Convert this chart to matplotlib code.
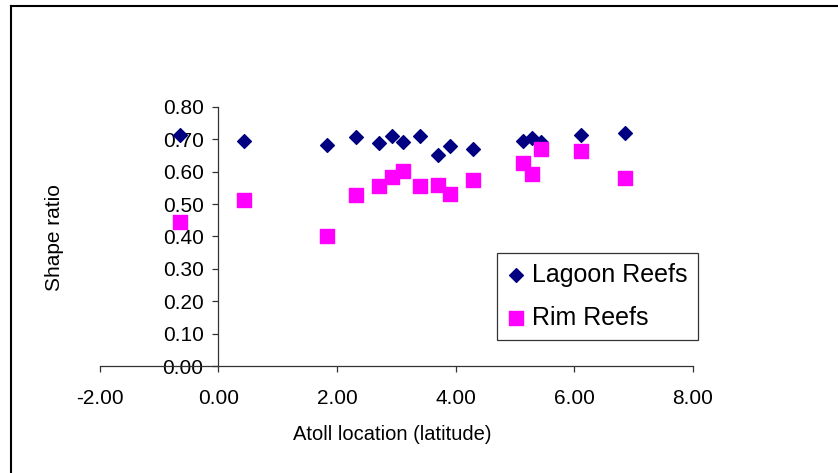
import matplotlib.pyplot as plt
from matplotlib.lines import Line2D
from matplotlib.ticker import FormatStrFormatter

plt.rcParams['font.family'] = ['Liberation Sans', 'DejaVu Sans']

# Atoll latitude and shape ratio
lat = [-0.64, 0.44, 1.83, 2.32, 2.71, 2.92, 3.11, 3.40, 3.70, 3.91, 4.29,
       5.13, 5.29, 5.44, 6.12, 6.86]
lagoon = [0.715, 0.695, 0.682, 0.708, 0.688, 0.710, 0.692, 0.710, 0.651, 0.680, 0.669,
          0.695, 0.703, 0.692, 0.712, 0.721]
rim = [0.445, 0.514, 0.403, 0.527, 0.556, 0.584, 0.601, 0.555, 0.560, 0.531, 0.573,
       0.627, 0.592, 0.670, 0.663, 0.581]

fig = plt.figure(figsize=(8.38, 4.73), dpi=100)
ax = fig.add_axes([99.5 / 838, 1 - 366 / 473, 593.5 / 838, 259 / 473])

ax.scatter(lat, lagoon, marker='D', s=7 ** 2, color='#000080', label='Lagoon Reefs', zorder=3)
ax.scatter(lat, rim, marker='s', s=10.5 ** 2, color='#FF00FF', label='Rim Reefs', zorder=3)

ax.set_xlim(-2, 8)
ax.set_ylim(0, 0.8)
ax.set_xticks([-2, 0, 2, 4, 6, 8])
ax.set_yticks([0, 0.1, 0.2, 0.3, 0.4, 0.5, 0.6, 0.7, 0.8])
ax.xaxis.set_major_formatter(FormatStrFormatter('%.2f'))
ax.yaxis.set_major_formatter(FormatStrFormatter('%.2f'))

# Excel style axes crossing at zero
ax.spines['left'].set_position(('data', 0))
ax.spines['top'].set_visible(False)
ax.spines['right'].set_visible(False)
for s in ['left', 'bottom']:
    ax.spines[s].set_linewidth(0.9)
    ax.spines[s].set_color('#333333')
ax.tick_params(axis='x', direction='out', length=4.5, width=0.9, pad=12, labelsize=15, color='#333333')
ax.tick_params(axis='y', direction='out', length=4.5, width=0.9, pad=6, labelsize=15, color='#333333')
ax.patch.set_alpha(0)

fig.text(55 / 838, 1 - 238 / 473, 'Shape ratio', rotation=90, ha='center', va='center', fontsize=15)
fig.text(392 / 838, 1 - 434 / 473, 'Atoll location (latitude)', ha='center', va='center', fontsize=14.5)

leg = ax.legend(loc='upper left', bbox_to_anchor=(497 / 838, 1 - 253 / 473),
                bbox_transform=fig.transFigure, fontsize=18, fancybox=False,
                edgecolor='#333333', framealpha=1, borderaxespad=0, scatterpoints=1,
                handlelength=0.7, handletextpad=0.3, labelspacing=0.75, borderpad=0.4)
leg.get_frame().set_linewidth(0.9)

# chart area border (only top and left edges are in the picture)
fig.add_artist(Line2D([11 / 838, 1], [1 - 6 / 473, 1 - 6 / 473], transform=fig.transFigure,
                      color='black', linewidth=1.5))
fig.add_artist(Line2D([11 / 838, 11 / 838], [0, 1 - 6 / 473], transform=fig.transFigure,
                      color='black', linewidth=1.5))

fig.savefig('out.png', dpi=100)
